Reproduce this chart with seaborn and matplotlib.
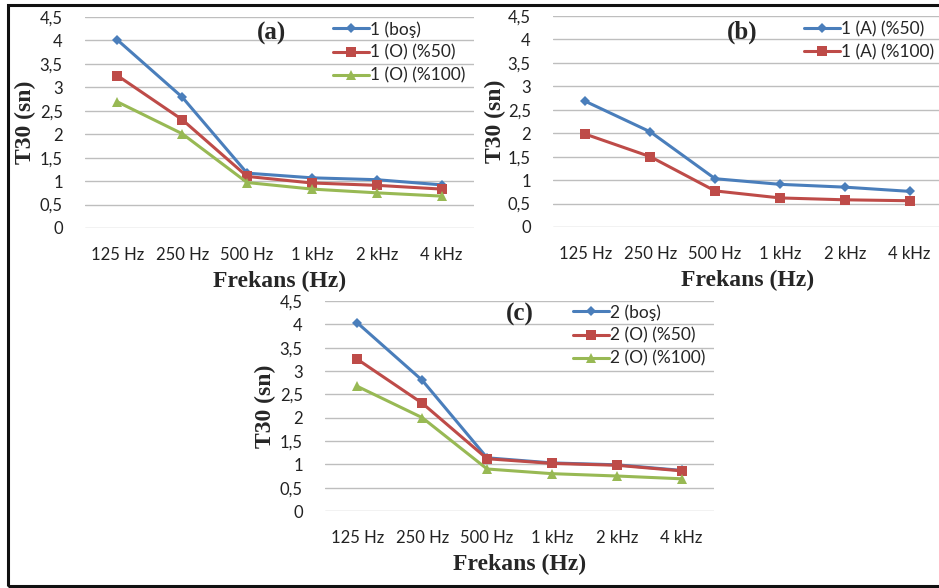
import matplotlib
matplotlib.use("Agg")
import matplotlib.pyplot as plt
import matplotlib.transforms as mtransforms
import seaborn as sns
import pandas as pd
from matplotlib.patches import Rectangle

categories = ["125 Hz", "250 Hz", "500 Hz", "1 kHz", "2 kHz", "4 kHz"]
y_ticks = [0, 0.5, 1, 1.5, 2, 2.5, 3, 3.5, 4, 4.5]
y_tick_labels = ["0", "0,5", "1", "1,5", "2", "2,5", "3", "3,5", "4", "4,5"]

# Panel (a)
a_names = ["1 (boş)", "1 (O) (%50)", "1 (O) (%100)"]
a_bos = [4.01, 2.79, 1.17, 1.07, 1.03, 0.92]
a_o50 = [3.25, 2.31, 1.10, 0.96, 0.91, 0.83]
a_o100 = [2.69, 2.01, 0.97, 0.83, 0.75, 0.68]

# Panel (b)
b_names = ["1 (A) (%50)", "1 (A) (%100)"]
b_a50 = [2.68, 2.03, 1.03, 0.91, 0.85, 0.76]
b_a100 = [1.98, 1.50, 0.77, 0.62, 0.58, 0.56]

# Panel (c)
c_names = ["2 (boş)", "2 (O) (%50)", "2 (O) (%100)"]
c_bos = [4.03, 2.80, 1.14, 1.03, 0.99, 0.87]
c_o50 = [3.25, 2.31, 1.12, 1.02, 0.98, 0.86]
c_o100 = [2.67, 2.00, 0.90, 0.80, 0.75, 0.69]

panel_labels = ["(a)", "(b)", "(c)"]
xlabel = "Frekans (Hz)"
ylabel = "T30 (sn)"

colors = ["#4A7EBB", "#BE4B48", "#98B954"]
marker_list = ["D", "s", "^"]
marker_sizes = [5, 7, 7]

sns.set_theme(style="white")
plt.rcParams["font.family"] = ["Lato", "DejaVu Sans"]

W, H = 939, 588
fig = plt.figure(figsize=(W / 100, H / 100), dpi=100)


def px_axes(x0, x1, ytop, ybot):
    return fig.add_axes([x0 / W, 1 - ybot / H, (x1 - x0) / W, (ybot - ytop) / H])


def draw_panel(ax, names, series, label, lab_xy, leg_xy, ylab_x):
    rows = []
    for name, vals in zip(names, series):
        for i, (c, v) in enumerate(zip(categories, vals)):
            rows.append({"pos": i, "freq": c, "T30": v, "series": name})
    df = pd.DataFrame(rows)
    n = len(names)
    sns.lineplot(data=df, x="pos", y="T30", hue="series", style="series",
                 hue_order=names, style_order=names,
                 palette=colors[:n], markers=marker_list[:n], dashes=False,
                 linewidth=2.2, markersize=7, markeredgewidth=0,
                 ax=ax, legend=True, zorder=3)
    for line, ms in zip(ax.get_lines(), marker_sizes):
        line.set_markersize(ms)
    ax.set_xlim(-0.5, 5.5)
    ax.set_ylim(0, 4.5)
    ax.set_xticks(range(len(categories)))
    ax.set_xticklabels(categories, fontsize=12, color="#222222")
    ax.set_yticks(y_ticks)
    ax.set_yticklabels(y_tick_labels, fontsize=12, color="#222222")
    ax.tick_params(axis="x", pad=14, length=0)
    ax.tick_params(axis="y", pad=16, length=0)
    ax.grid(axis="y", color="#BEBEBE", linewidth=1.0)
    ax.grid(axis="x", visible=False)
    ax.set_axisbelow(True)
    for s in ax.spines.values():
        s.set_visible(False)
    ax.set_xlabel(xlabel, fontsize=17, fontweight="bold",
                  family=["Liberation Serif"], labelpad=5)
    ax.set_ylabel(ylabel, fontsize=17, fontweight="bold",
                  family=["Liberation Serif"])
    ax.yaxis.set_label_coords(
        ylab_x / W, 0.5,
        transform=mtransforms.blended_transform_factory(fig.transFigure, ax.transAxes))
    fig.text(lab_xy[0] / W, 1 - lab_xy[1] / H, label, fontsize=18,
             fontweight="bold", family=["Liberation Serif"],
             ha="center", va="center")
    handles, labs = ax.get_legend_handles_labels()
    for h, ms in zip(handles, marker_sizes):
        h.set_markersize(ms)
    ax.legend(handles, labs, loc="upper left",
              bbox_to_anchor=(leg_xy[0] / W, 1 - leg_xy[1] / H),
              bbox_transform=fig.transFigure, frameon=False,
              fontsize=12.5, handlelength=2.1, handletextpad=0.05,
              labelspacing=0.4, borderpad=0, borderaxespad=0)


ax_a = px_axes(85, 474, 17, 228)
draw_panel(ax_a, a_names, [a_bos, a_o50, a_o100], panel_labels[0],
           (272, 33), (333, 21), 36)

ax_b = px_axes(553, 942, 16, 227)
draw_panel(ax_b, b_names, [b_a50, b_a100], panel_labels[1],
           (742, 32), (804, 21), 506)

ax_c = px_axes(325, 714, 301, 511)
draw_panel(ax_c, c_names, [c_bos, c_o50, c_o100], panel_labels[2],
           (520, 314), (573, 304), 276)

fig.patches.append(Rectangle((8 / W, 1 - 586 / H), (W + 30 - 8) / W, (586 - 5) / H,
                             transform=fig.transFigure, fill=False,
                             edgecolor="#111111", linewidth=2.2, zorder=10,
                             clip_on=False))

fig.savefig("out.png", dpi=100)
